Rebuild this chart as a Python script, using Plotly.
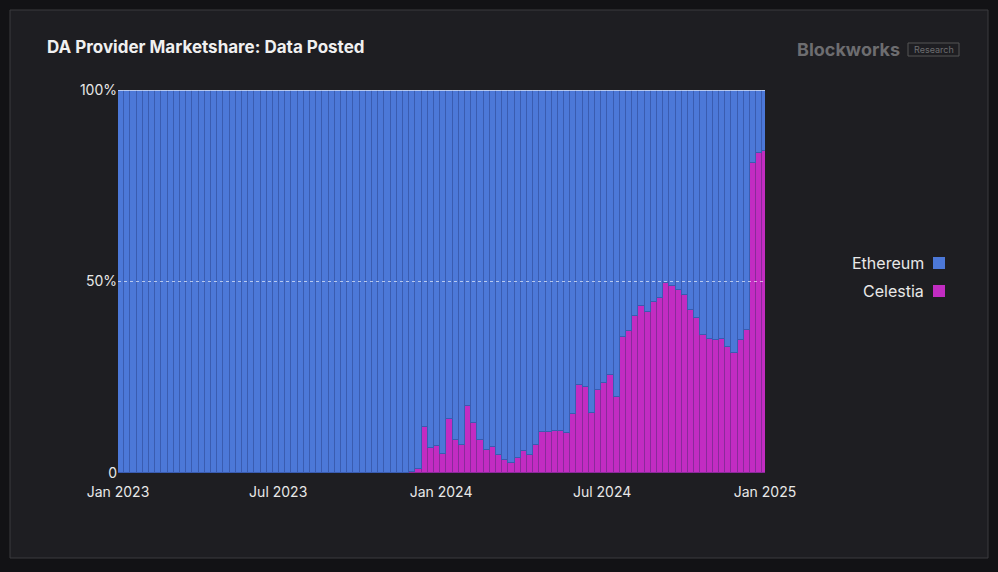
import plotly.graph_objects as go
import pandas as pd

weeks = pd.date_range("2023-01-02", periods=105, freq="7D")
celestia = [0]*47 + [0.3] + [1, 12, 6.5, 7, 5, 14, 8.6, 7.3, 17.5, 13, 8.6, 6, 6.8, 4.7, 3.4, 2.6, 4, 5.8, 4.7, 7.3,
            10.7, 10.7, 11, 11, 10.4, 15.4, 23, 22.5, 15.7, 21.7, 23.5, 25.6, 19.8, 35.5, 37, 41, 43.6, 42, 44.6, 45.7,
            49.6, 48.8, 47.8, 46.5, 42.6, 40.5, 36, 35, 34.7, 35, 33, 31.3, 34.7, 37.3, 81, 83.5, 84]
celestia = celestia[-105:] if len(celestia) > 105 else [0]*(105-len(celestia)) + celestia
ethereum = [100 - c for c in celestia]
centers = weeks + pd.Timedelta(hours=84) - pd.Timedelta(days=1)

fig = go.Figure()
fig.add_bar(x=centers, y=celestia, name="Celestia", marker=dict(color="#c22cc2", line=dict(color="#8a2a9a", width=1)))
fig.add_bar(x=centers, y=ethereum, name="Ethereum", marker=dict(color="#4c78d8", line=dict(color="#3a5cb0", width=1)))

W, H = 998, 572
fig.update_layout(
    width=W, height=H, barmode="stack", bargap=0, showlegend=False,
    paper_bgcolor="#121215", plot_bgcolor="#1e1e22",
    margin=dict(l=118, r=233, t=90, b=99),
    font=dict(family="Inter, DejaVu Sans", color="#e8e8e8", size=14),
    shapes=[
        dict(type="rect", xref="paper", yref="paper", layer="below",
             x0=-108/647, x1=(988-118)/647, y0=-(558-473)/383, y1=(473-10)/383,
             fillcolor="#1e1e22", line=dict(color="#3a3a3e", width=1)),
        dict(type="line", xref="paper", yref="y", x0=0, x1=1, y0=50, y1=50, layer="above",
             line=dict(color="rgba(255,255,255,0.6)", width=1, dash="dot")),
        dict(type="line", xref="paper", yref="y", x0=0, x1=1, y0=100, y1=100, layer="above",
             line=dict(color="rgba(255,255,255,0.8)", width=1.5)),
        dict(type="rect", xref="paper", yref="paper", x0=(933-118)/647, x1=(945-118)/647,
             y0=(473-269)/383, y1=(473-257)/383, fillcolor="#4c78d8", line=dict(width=0)),
        dict(type="rect", xref="paper", yref="paper", x0=(933-118)/647, x1=(945-118)/647,
             y0=(473-297)/383, y1=(473-285)/383, fillcolor="#c22cc2", line=dict(width=0)),
        dict(type="rect", xref="paper", yref="paper", x0=(908-118)/647, x1=(959-118)/647,
             y0=(473-56)/383, y1=(473-43)/383, line=dict(color="#555", width=1)),
    ],
    annotations=[
        dict(text="<b>DA Provider Marketshare: Data Posted</b>", xref="paper", yref="paper",
             x=-73/647, y=(473-47)/383, xanchor="left", yanchor="middle", showarrow=False,
             font=dict(size=17, color="#f0f0f0")),
        dict(text="<b>Blockworks</b>", xref="paper", yref="paper", x=(902-118)/647, y=(473-49)/383,
             xanchor="right", yanchor="middle", showarrow=False, font=dict(size=18, color="#6d6d70")),
        dict(text="Research", xref="paper", yref="paper", x=(933.5-118)/647, y=(473-49.5)/383,
             xanchor="center", yanchor="middle", showarrow=False, font=dict(size=9, color="#6d6d70")),
        dict(text="Ethereum", xref="paper", yref="paper", x=(926-118)/647, y=(473-263)/383,
             xanchor="right", yanchor="middle", showarrow=False, font=dict(size=16, color="#e8e8e8")),
        dict(text="Celestia", xref="paper", yref="paper", x=(926-118)/647, y=(473-291)/383,
             xanchor="right", yanchor="middle", showarrow=False, font=dict(size=16, color="#e8e8e8")),
    ],
    xaxis=dict(range=["2023-01-01", "2025-01-01"], tickvals=["2023-01-01", "2023-07-01", "2024-01-01", "2024-07-01", "2025-01-01"],
               ticktext=["Jan 2023", "Jul 2023", "Jan 2024", "Jul 2024", "Jan 2025"], showgrid=False,
               zeroline=False, showline=False, ticks="outside", ticklen=6, tickcolor="rgba(0,0,0,0)",
               tickfont=dict(size=14, color="#e8e8e8")),
    yaxis=dict(range=[0, 100], tickvals=[0, 50, 100], ticktext=["0", "50%", "100%"], showgrid=False,
               zeroline=False, ticks="", tickfont=dict(size=14, color="#e8e8e8")),
)
fig.write_html("out.html", config={"displayModeBar": False},
               post_script="document.body.style.margin='0';document.body.style.overflow='hidden';")
